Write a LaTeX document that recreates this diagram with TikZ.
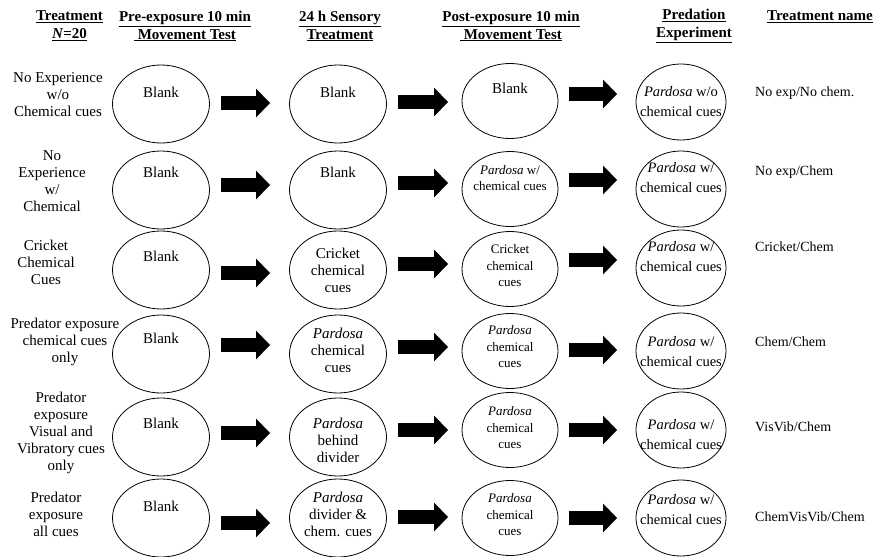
\documentclass[tikz,border=0pt]{standalone}
\usepackage{fontspec}
\setmainfont{Liberation Serif}
\usetikzlibrary{shapes.geometric,arrows.meta}
\tikzset{
  oval/.style={draw, ellipse, line width=0.8pt, inner sep=0pt, outer sep=0pt},
  hdr/.style={font=\bfseries\fontsize{15}{18}\selectfont, align=center, inner sep=0pt},
  lab/.style={font=\fontsize{15}{17}\selectfont, align=center, inner sep=0pt},
  etxt/.style={font=\fontsize{15}{17}\selectfont, align=center, inner sep=0pt},
  etxts/.style={font=\fontsize{13}{16.5}\selectfont, align=center, inner sep=0pt},
  ptxt/.style={font=\fontsize{14.5}{20}\selectfont, align=center, inner sep=0pt},
  tname/.style={font=\fontsize{14}{17}\selectfont, anchor=west, inner sep=0pt},
  blockarrow/.style={line width=14pt, -{Triangle[length=14pt,width=29pt,line width=0pt]}}
}
\newcommand\barrow[6]{\draw[blockarrow] ([xshift=#3pt,yshift=#4pt]#1.east) -- ([xshift=#5pt,yshift=#6pt]#2.west);}
\begin{document}
\begin{tikzpicture}[x=1pt,y=-1pt]
\useasboundingbox (0,0) rectangle (887,557);
% headers
\node[hdr] (h1) at (69.5,26) {\underline{Treatment}\\\underline{\textit{N}=20}};
\node[hdr] (h2) at (185,26) {\underline{Pre-exposure 10 min}\\\underline{\ Movement Test}};
\node[hdr] (h3) at (340,26) {\underline{24 h Sensory}\\\underline{Treatment}};
\node[hdr] (h4) at (511,26) {\underline{Post-exposure 10 min}\\\underline{\ Movement Test}};
\node[hdr] (h5) at (694,26) {\underline{Predation}\\\underline{Experiment}};
\node[hdr] (h6) at (820,17) {\underline{Treatment name}};
% row labels
\node[lab] (l1) at (58,95) {No Experience\\w/o\\Chemical cues};
\node[lab] (l2) at (52,181) {No\\Experience\\w/\\Chemical};
\node[lab] (l3) at (46,262) {Cricket\\Chemical\\Cues};
\node[lab] (l4) at (65,342) {Predator exposure\\chemical cues\\only};
\node[lab] (l5) at (61,433) {Predator\\exposure\\Visual and\\Vibratory cues\\only};
\node[lab] (l6) at (56,514) {Predator\\exposure\\all cues};
% ellipses
\foreach \r/\y in {1/104,2/190,3/270,4/354,5/437,6/518}{
  \node[oval, minimum width=97, minimum height=78] (a1\r) at (161,\y) {};
}
\foreach \r/\y in {1/104,2/190,3/270,4/354,5/437,6/518}{
  \node[oval, minimum width=97, minimum height=78] (a2\r) at (338,\y) {};
}
\foreach \r/\y in {1/101,2/189,3/269,4/351,5/430,6/518}{
  \node[oval, minimum width=96, minimum height=75] (a3\r) at (510,\y) {};
}
\foreach \r/\y in {1/102,2/189,3/268,4/351,5/430,6/518}{
  \node[oval, minimum width=90, minimum height=76] (a4\r) at (681,\y) {};
}
% column 1 texts
\node[etxt] (t11) at (161,92) {Blank};
\node[etxt] (t12) at (161,172) {Blank};
\node[etxt] (t13) at (161,256) {Blank};
\node[etxt] (t14) at (161,338) {Blank};
\node[etxt] (t15) at (161,423) {Blank};
\node[etxt] (t16) at (161,506) {Blank};
% column 2 texts
\node[etxt] (t21) at (338,92) {Blank};
\node[etxt] (t22) at (338,172) {Blank};
\node[etxt] (t23) at (338,270) {Cricket\\chemical\\cues};
\node[etxt] (t24) at (338,350) {\textit{Pardosa}\\chemical\\cues};
\node[etxt] (t25) at (338,440) {\textit{Pardosa}\\behind\\divider};
\node[etxt] (t26) at (338,514) {\textit{Pardosa}\\divider \&\\chem. cues};
% column 3 texts
\node[etxt] (t31) at (510,88) {Blank};
\node[etxts] (t32) at (510,178) {\textit{Pardosa} w/\\chemical cues};
\node[etxts] (t33) at (510,266) {Cricket\\chemical\\cues};
\node[etxts] (t34) at (510,347) {\textit{Pardosa}\\chemical\\cues};
\node[etxts] (t35) at (510,428) {\textit{Pardosa}\\chemical\\cues};
\node[etxts] (t36) at (510,515) {\textit{Pardosa}\\chemical\\cues};
% column 4 texts
\node[ptxt] (t41) at (681,102) {\textit{Pardosa} w/o\\chemical cues};
\node[ptxt] (t42) at (681,178) {\textit{Pardosa} w/\\chemical cues};
\node[ptxt] (t43) at (681,257) {\textit{Pardosa} w/\\chemical cues};
\node[ptxt] (t44) at (681,352) {\textit{Pardosa} w/\\chemical cues};
\node[ptxt] (t45) at (681,435) {\textit{Pardosa} w/\\chemical cues};
\node[ptxt] (t46) at (681,510) {\textit{Pardosa} w/\\chemical cues};
% treatment names
\node[tname] (n1) at (755,93) {No exp/No chem.};
\node[tname] (n2) at (755,172) {No exp/Chem};
\node[tname] (n3) at (755,247) {Cricket/Chem};
\node[tname] (n4) at (755,342) {Chem/Chem};
\node[tname] (n5) at (755,427) {VisVib/Chem};
\node[tname] (n6) at (755,517) {ChemVisVib/Chem};
% arrows col1 -> col2
\barrow{a11}{a21}{11.5}{1}{-19.5}{1}
\barrow{a12}{a22}{11.5}{5}{-19.5}{5}
\barrow{a13}{a23}{11.5}{-3}{-19.5}{-3}
\barrow{a14}{a24}{11.5}{9}{-19.5}{9}
\barrow{a15}{a25}{11.5}{4}{-19.5}{4}
\barrow{a16}{a26}{11.5}{-5}{-19.5}{-5}
% arrows col2 -> col3
\barrow{a21}{a31}{11.5}{2}{-14}{-1}
\barrow{a22}{a32}{11.5}{7}{-14}{6}
\barrow{a23}{a33}{11.5}{6}{-14}{5}
\barrow{a24}{a34}{11.5}{7}{-14}{4}
\barrow{a25}{a35}{11.5}{7}{-14}{0}
\barrow{a26}{a36}{11.5}{1}{-14}{1}
% arrows col3 -> col4
\barrow{a31}{a41}{11}{7}{-19}{8}
\barrow{a32}{a42}{11}{9}{-19}{9}
\barrow{a33}{a43}{11}{9}{-19}{8}
\barrow{a34}{a44}{11}{1}{-19}{1}
\barrow{a35}{a45}{11}{0}{-19}{0}
\barrow{a36}{a46}{11}{0}{-19}{0}
\end{tikzpicture}
\end{document}
